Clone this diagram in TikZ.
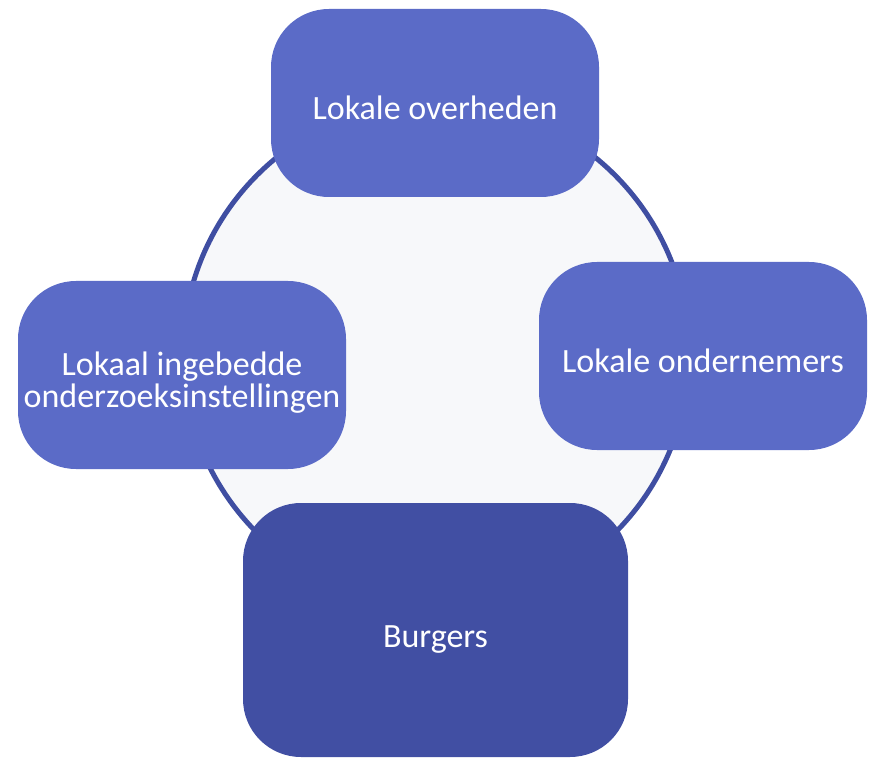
\documentclass[tikz,border=0pt]{standalone}
\usepackage{fontspec}
\setmainfont{Carlito}
\definecolor{partfill}{HTML}{5B6BC7}
\definecolor{mainfill}{HTML}{414FA3}
\definecolor{ringline}{HTML}{3F4EA2}
\definecolor{ringfill}{HTML}{F7F8FA}
\tikzset{
  partbox/.style={rectangle, rounded corners=58pt, fill=partfill, text=white,
    minimum width=328pt, minimum height=188pt, inner sep=0pt, align=center,
    text height=34pt, text depth=0pt,
    font=\fontsize{34}{32}\selectfont},
}

\begin{document}
\begin{tikzpicture}[x=1pt,y=-1pt]
		\useasboundingbox (0,0) rectangle (873,759);

		\draw[ringline, line width=5pt, fill=ringfill] (436,354) node[circle, minimum size=506pt, inner sep=0pt] (ring) {} circle (253);

		\draw (435,103) node[partbox] (overheid) {Lokale overheden};
		\draw (703,356) node[partbox] (ondernemers) {Lokale ondernemers};
		\draw (182,375) node[partbox, text height=64pt] (onderzoek) {Lokaal ingebedde\\onderzoeksinstellingen};
		\draw (435.5,630) node[partbox, fill=mainfill, minimum width=385pt, minimum height=254pt] (burgers) {Burgers};
	\end{tikzpicture}
\end{document}
